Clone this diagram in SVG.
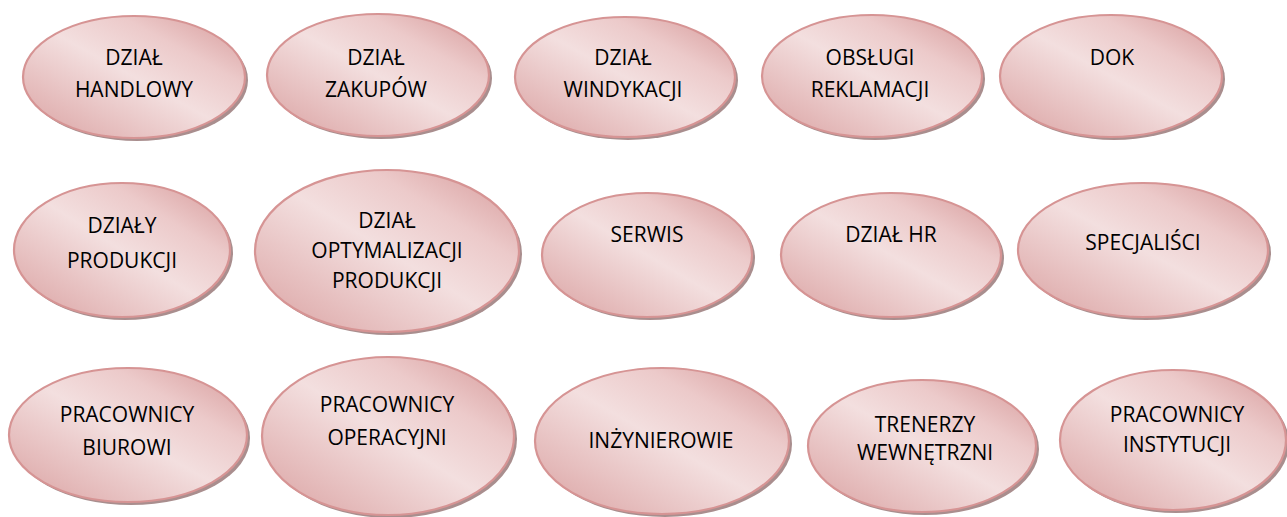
<svg xmlns="http://www.w3.org/2000/svg" width="1287" height="517" viewBox="0 0 1287 517">
<style>
.sh{fill:#a98e8e;}
.el{fill:url(#g);stroke:#d69494;stroke-width:2.2;}
.t{font-family:"Open Sans","Liberation Sans",sans-serif;font-size:21px;fill:#000;text-anchor:middle;}
</style>
<defs>
<linearGradient id="g" x1="0" y1="1" x2="1" y2="0">
<stop offset="0" stop-color="#d9a0a0"/>
<stop offset="0.22" stop-color="#e5bcbc"/>
<stop offset="0.5" stop-color="#f3dfdf"/>
<stop offset="0.72" stop-color="#eccaca"/>
<stop offset="1" stop-color="#d59797"/>
</linearGradient>
</defs>
<rect width="1287" height="517" fill="#fff"/>
<g id="n-handlowy">
<ellipse class="sh" cx="137" cy="80" rx="111" ry="61"/>
<ellipse class="el" cx="134" cy="77" rx="111" ry="61"/>
<text class="t" x="134" y="65">DZIAŁ</text>
<text class="t" x="134" y="97">HANDLOWY</text>
</g>
<g id="n-zakupow">
<ellipse class="sh" cx="381" cy="78" rx="111" ry="61"/>
<ellipse class="el" cx="378" cy="75" rx="111" ry="61"/>
<text class="t" x="376" y="65">DZIAŁ</text>
<text class="t" x="376" y="97">ZAKUPÓW</text>
</g>
<g id="n-windykacji">
<ellipse class="sh" cx="628" cy="80" rx="110" ry="60"/>
<ellipse class="el" cx="625" cy="77" rx="110" ry="60"/>
<text class="t" x="623" y="65">DZIAŁ</text>
<text class="t" x="623" y="97">WINDYKACJI</text>
</g>
<g id="n-reklamacji">
<ellipse class="sh" cx="875" cy="79" rx="110" ry="61"/>
<ellipse class="el" cx="872" cy="76" rx="110" ry="61"/>
<text class="t" x="870" y="65">OBSŁUGI</text>
<text class="t" x="870" y="97">REKLAMACJI</text>
</g>
<g id="n-dok">
<ellipse class="sh" cx="1114" cy="79" rx="111" ry="61"/>
<ellipse class="el" cx="1111" cy="76" rx="111" ry="61"/>
<text class="t" x="1112" y="65">DOK</text>
</g>
<g id="n-produkcji">
<ellipse class="sh" cx="125" cy="253" rx="108" ry="67"/>
<ellipse class="el" cx="122" cy="250" rx="108" ry="67"/>
<text class="t" x="122" y="233">DZIAŁY</text>
<text class="t" x="122" y="268">PRODUKCJI</text>
</g>
<g id="n-optymalizacji">
<ellipse class="sh" cx="390" cy="254" rx="132" ry="81"/>
<ellipse class="el" cx="387" cy="251" rx="132" ry="81"/>
<text class="t" x="387" y="228">DZIAŁ</text>
<text class="t" x="387" y="258">OPTYMALIZACJI</text>
<text class="t" x="387" y="288">PRODUKCJI</text>
</g>
<g id="n-serwis">
<ellipse class="sh" cx="650" cy="258" rx="105" ry="62"/>
<ellipse class="el" cx="647" cy="255" rx="105" ry="62"/>
<text class="t" x="647" y="242">SERWIS</text>
</g>
<g id="n-hr">
<ellipse class="sh" cx="894" cy="258" rx="110" ry="62"/>
<ellipse class="el" cx="891" cy="255" rx="110" ry="62"/>
<text class="t" x="891" y="242">DZIAŁ HR</text>
</g>
<g id="n-specjalisci">
<ellipse class="sh" cx="1146" cy="253" rx="125" ry="67"/>
<ellipse class="el" cx="1143" cy="250" rx="125" ry="67"/>
<text class="t" x="1143" y="250">SPECJALIŚCI</text>
</g>
<g id="n-biurowi">
<ellipse class="sh" cx="131" cy="438" rx="119" ry="67"/>
<ellipse class="el" cx="128" cy="435" rx="119" ry="67"/>
<text class="t" x="127" y="422">PRACOWNICY</text>
<text class="t" x="127" y="455">BIUROWI</text>
</g>
<g id="n-operacyjni">
<ellipse class="sh" cx="391" cy="439" rx="126" ry="79"/>
<ellipse class="el" cx="388" cy="436" rx="126" ry="79"/>
<text class="t" x="387" y="412">PRACOWNICY</text>
<text class="t" x="387" y="445">OPERACYJNI</text>
</g>
<g id="n-inzynierowie">
<ellipse class="sh" cx="665" cy="444" rx="127" ry="73"/>
<ellipse class="el" cx="662" cy="441" rx="127" ry="73"/>
<text class="t" x="661" y="448">INŻYNIEROWIE</text>
</g>
<g id="n-trenerzy">
<ellipse class="sh" cx="925" cy="449" rx="114" ry="66"/>
<ellipse class="el" cx="922" cy="446" rx="114" ry="66"/>
<text class="t" x="925" y="432">TRENERZY</text>
<text class="t" x="925" y="460">WEWNĘTRZNI</text>
</g>
<g id="n-instytucji">
<ellipse class="sh" cx="1176" cy="443" rx="113" ry="70"/>
<ellipse class="el" cx="1173" cy="440" rx="113" ry="70"/>
<text class="t" x="1177" y="422">PRACOWNICY</text>
<text class="t" x="1177" y="452">INSTYTUCJI</text>
</g>
</svg>
